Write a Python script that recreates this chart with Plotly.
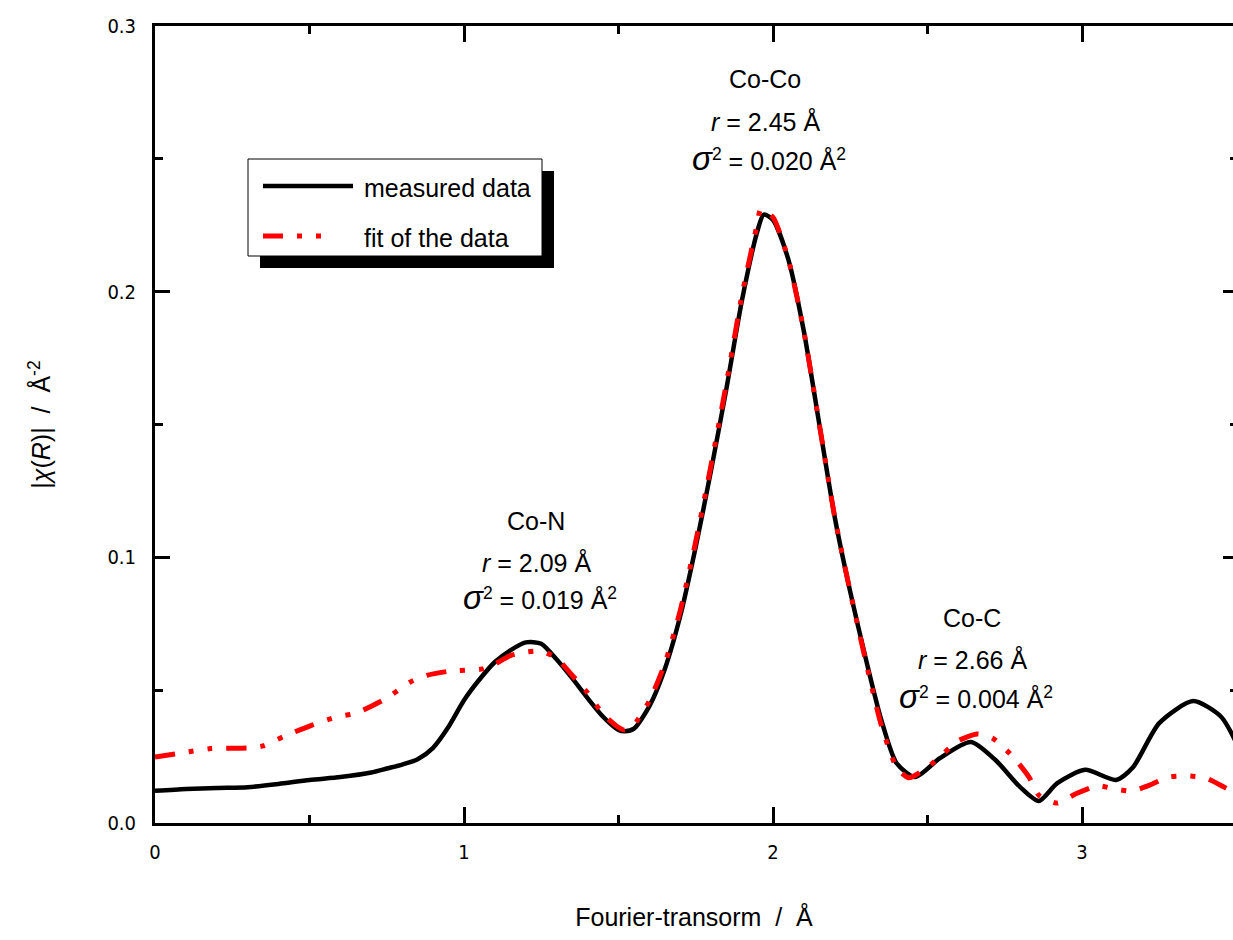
import plotly.graph_objects as go

# ---------------- data ----------------
x_measured = [0.00, 0.10, 0.20, 0.30, 0.40, 0.50, 0.60, 0.70, 0.75, 0.80, 0.85, 0.90, 0.95,
              1.00, 1.05, 1.10, 1.15, 1.20, 1.25, 1.30, 1.35, 1.40, 1.45, 1.50, 1.52, 1.55,
              1.60, 1.65, 1.70, 1.75, 1.80, 1.85, 1.90, 1.95, 1.97, 2.00, 2.05, 2.10, 2.15,
              2.20, 2.25, 2.30, 2.35, 2.40, 2.46, 2.54, 2.64, 2.72, 2.80, 2.86, 2.92, 3.01,
              3.11, 3.165, 3.25, 3.36, 3.45, 3.50]
y_measured = [0.0121, 0.0128, 0.0132, 0.0135, 0.0147, 0.0162, 0.0173, 0.0190, 0.0205, 0.0220,
              0.0240, 0.0283, 0.0362, 0.0462, 0.0540, 0.0606, 0.0650, 0.0680, 0.0675, 0.0615,
              0.0545, 0.0470, 0.0400, 0.0350, 0.0345, 0.0355, 0.0440, 0.0580, 0.0780, 0.1040,
              0.1330, 0.1640, 0.1970, 0.2230, 0.2290, 0.2270, 0.2120, 0.1850, 0.1500, 0.1150,
              0.0870, 0.0620, 0.0390, 0.0225, 0.0173, 0.0244, 0.0305, 0.0237, 0.0135, 0.0083,
              0.0150, 0.0200, 0.0162, 0.0210, 0.0376, 0.0459, 0.0400, 0.0300]

x_fit = [0.00, 0.11, 0.18, 0.30, 0.35, 0.415, 0.50, 0.59, 0.65, 0.75, 0.825, 0.88, 0.95, 1.06,
         1.10, 1.15, 1.20, 1.25, 1.30, 1.35, 1.40, 1.45, 1.50, 1.52, 1.55, 1.60, 1.65, 1.70,
         1.75, 1.80, 1.85, 1.90, 1.95, 1.96, 2.00, 2.05, 2.10, 2.15, 2.20, 2.25, 2.30, 2.35,
         2.40, 2.44, 2.50, 2.55, 2.60, 2.66, 2.71, 2.78, 2.83, 2.86, 2.92, 2.98, 3.05, 3.10,
         3.16, 3.22, 3.28, 3.34, 3.40, 3.46, 3.50]
y_fit = [0.0248, 0.0268, 0.0280, 0.0283, 0.0290, 0.0325, 0.0365, 0.0400, 0.0413, 0.0470,
         0.0530, 0.0556, 0.0571, 0.0580, 0.0598, 0.0630, 0.0643, 0.0647, 0.0620, 0.0556,
         0.0490, 0.0410, 0.0360, 0.0350, 0.0370, 0.0460, 0.0600, 0.0800, 0.1060, 0.1350,
         0.1660, 0.1990, 0.2260, 0.2310, 0.2280, 0.2120, 0.1850, 0.1500, 0.1150, 0.0870,
         0.0610, 0.0370, 0.0210, 0.0170, 0.0210, 0.0260, 0.0310, 0.0335, 0.0320, 0.0245,
         0.0170, 0.0105, 0.0075, 0.0110, 0.0140, 0.0130, 0.0120, 0.0143, 0.0173, 0.0177,
         0.0170, 0.0135, 0.0110]

series_names = ["measured data", "fit of the data"]
x_ticks = [0, 1, 2, 3]
y_ticks = [0.0, 0.1, 0.2, 0.3]
y_tick_labels = ["0.0", "0.1", "0.2", "0.3"]

peaks = [
    {"name": "Co-N", "r": "2.09", "s2": "0.019"},
    {"name": "Co-Co", "r": "2.45", "s2": "0.020"},
    {"name": "Co-C", "r": "2.66", "s2": "0.004"},
]

# ---------------- layout geometry ----------------
W, H = 1233, 940
ML, MR, MT, MB = 155, 0, 26, 117
PW, PH = W - ML - MR, H - MT - MB
FONT = "Liberation Sans, Arial, sans-serif"
TICKFONT = dict(family="DejaVu Sans Condensed, Liberation Sans Narrow, Liberation Sans, sans-serif",
                size=20, color="black")


def px(xp):
    return (xp - ML) / PW


def py(yp):
    return (H - MB - yp) / PH


fig = go.Figure()
fig.add_trace(go.Scatter(x=x_measured, y=y_measured, mode="lines", name=series_names[0],
                         line=dict(color="black", width=4.5, shape="spline", smoothing=0.7),
                         showlegend=False))
fig.add_trace(go.Scatter(x=x_fit, y=y_fit, mode="lines", name=series_names[1],
                         line=dict(color="red", width=5, shape="spline", smoothing=0.6,
                                   dash="20px,14px,5px,14px,5px,14px"),
                         showlegend=False))
fig.add_trace(go.Scatter(x=[], y=[], yaxis="y2", showlegend=False))

fig.update_layout(
    width=W, height=H,
    margin=dict(l=ML, r=MR, t=MT, b=MB, pad=0),
    paper_bgcolor="white", plot_bgcolor="white",
    font=dict(family=FONT, color="black", size=19),
    xaxis=dict(range=[0, (W - ML) / 309.0], showline=True, mirror="ticks",
               showgrid=False, zeroline=False, linecolor="black", linewidth=3,
               ticks="inside", tickcolor="black", tickwidth=3, ticklen=16,
               tickfont=TICKFONT, ticklabelstandoff=9,
               tickmode="array", tickvals=x_ticks, ticktext=[str(v) for v in x_ticks],
               minor=dict(ticks="inside", ticklen=8, tickwidth=3, tickcolor="black", dtick=0.5),
               title=dict(text="Fourier-transorm  /  Å", font=dict(family=FONT, size=25),
                          standoff=46)),
    yaxis=dict(range=[0, 0.3], showline=True,
               showgrid=False, zeroline=False, linecolor="black", linewidth=3,
               ticks="inside", tickcolor="black", tickwidth=3, ticklen=15,
               tickfont=TICKFONT, ticklabelstandoff=12,
               tickmode="array", tickvals=y_ticks, ticktext=y_tick_labels,
               minor=dict(ticks="inside", ticklen=8, tickwidth=3, tickcolor="black", dtick=0.05),
               title=dict(text="|<i>χ</i>(<i>R</i>)|  /  Å<sup>-2</sup>",
                          font=dict(family=FONT, size=25), standoff=50)),
    yaxis2=dict(overlaying="y", side="right", range=[0, 0.3], showline=False, showgrid=False,
                zeroline=False, ticks="inside", tickcolor="black", tickwidth=3, ticklen=10,
                tickvals=y_ticks, showticklabels=False,
                minor=dict(ticks="inside", ticklen=3, tickwidth=3, tickcolor="black", dtick=0.05)),
)

# ---------------- peak annotations ----------------
ann_pos = [(536, 521, 562, 601), (765, 79, 122, 163), (972, 618, 659, 700)]
for pk, (cx, y1, y2, y3) in zip(peaks, ann_pos):
    common = dict(xref="paper", yref="paper", showarrow=False, xanchor="center", yanchor="middle",
                  font=dict(family=FONT, size=25, color="black"))
    fig.add_annotation(x=px(cx), y=py(y1), text=pk["name"], **common)
    fig.add_annotation(x=px(cx), y=py(y2), text=f"<i>r</i> = {pk['r']} Å", **common)
    fig.add_annotation(x=px(cx + 4), y=py(y3 - 4),
                       text=f"<span style='font-size:33px'><i>σ</i></span><sup>2</sup> = {pk['s2']} Å<sup>2</sup>",
                       **common)

# ---------------- legend box (drawn with shapes) ----------------
fig.add_shape(type="rect", xref="paper", yref="paper", x0=px(260), x1=px(554), y0=py(268), y1=py(171),
              fillcolor="black", line=dict(width=0))
fig.add_shape(type="rect", xref="paper", yref="paper", x0=px(248), x1=px(542), y0=py(256), y1=py(159),
              fillcolor="white", line=dict(color="black", width=1))
fig.add_shape(type="line", xref="paper", yref="paper", x0=px(263), x1=px(353), y0=py(186), y1=py(186),
              line=dict(color="black", width=4.5))
fig.add_shape(type="line", xref="paper", yref="paper", x0=px(263), x1=px(353), y0=py(236), y1=py(236),
              line=dict(color="red", width=5, dash="20px,14px,5px,14px,5px,100px"))
for name, yy in zip(series_names, [188, 238]):
    fig.add_annotation(x=px(362), y=py(yy), xref="paper", yref="paper", showarrow=False,
                       xanchor="left", yanchor="middle", text=name,
                       font=dict(family=FONT, size=25, color="black"))

fig.write_html("out.html")
